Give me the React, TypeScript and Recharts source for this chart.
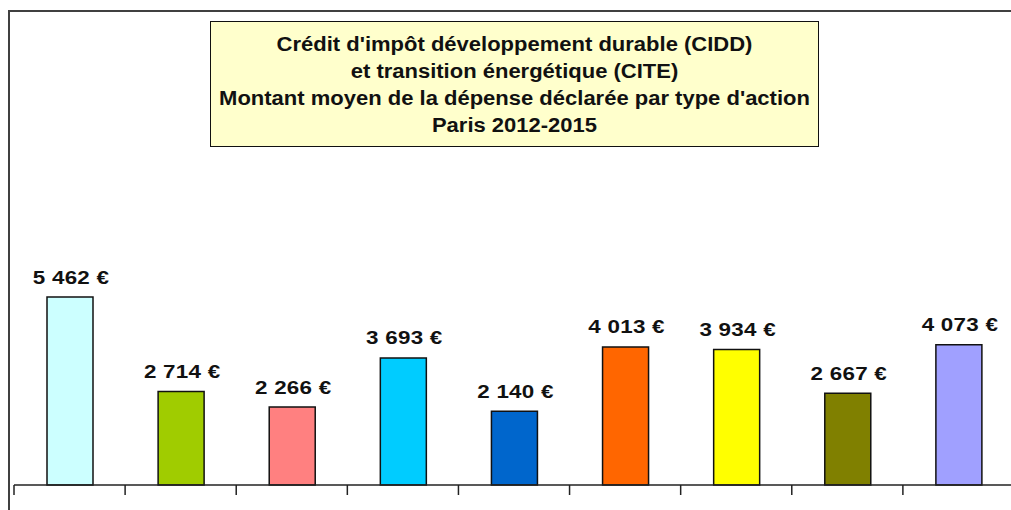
import React from "react";
import { BarChart, Bar, XAxis, YAxis, Cell, LabelList } from "recharts";

const categories = [
  "Type 1",
  "Type 2",
  "Type 3",
  "Type 4",
  "Type 5",
  "Type 6",
  "Type 7",
  "Type 8",
  "Type 9",
];
const values = [5462, 2714, 2266, 3693, 2140, 4013, 3934, 2667, 4073];
const colors = [
  "#CCFFFF",
  "#A0CC00",
  "#FF8080",
  "#00CCFF",
  "#0066CC",
  "#FF6600",
  "#FFFF00",
  "#808000",
  "#A0A0FF",
];
const titleLines = [
  "Crédit d'impôt développement durable (CIDD)",
  "et transition énergétique (CITE)",
  "Montant moyen de la dépense déclarée par type d'action",
  "Paris 2012-2015",
];

const data = categories.map((c, i) => ({ category: c, value: values[i] }));

const FONT = "'Liberation Sans', Arial, sans-serif";
const PLOT_WIDTH = 1000;
const BAND = PLOT_WIDTH / categories.length;

const fmt = (v: number) =>
  String(v).replace(/\B(?=(\d{3})+(?!\d))/g, " ") + " €";

const BoundaryTick = (props: any) => {
  const { x, y } = props;
  const bx = x - BAND / 2;
  return (
    <line x1={bx} x2={bx} y1={y} y2={y + 10} stroke="#222" strokeWidth={1.5} />
  );
};

const ValueLabel = (props: any) => {
  const { x, y, width, value } = props;
  const cx = Number(x) + Number(width) / 2 + 1;
  const cy = Number(y) - 13.5;
  return (
    <text
      transform={`translate(${cx},${cy}) scale(1.28,1)`}
      x={0}
      y={0}
      textAnchor="middle"
      fontFamily={FONT}
      fontWeight="bold"
      fontSize={17.5}
      letterSpacing={0.2}
      fill="#111"
    >
      {fmt(Number(value))}
    </text>
  );
};

export default function App() {
  return (
    <div
      style={{
        position: "fixed",
        left: 0,
        top: 0,
        width: 1011,
        height: 510,
        overflow: "hidden",
        background: "#fff",
      }}
    >
      <svg
        width={1011}
        height={510}
        style={{ position: "absolute", left: 0, top: 0 }}
      >
        <path d="M9,510 L9,11 L1011,11" fill="none" stroke="#404040" strokeWidth={2} />
      </svg>
      <div style={{ position: "absolute", left: 8, top: 8 }}>
        <BarChart
          width={1010}
          height={494}
          data={data}
          margin={{ top: 64, right: 4, left: 6, bottom: 7 }}
        >
          <XAxis
            dataKey="category"
            height={10}
            interval={0}
            axisLine={{ stroke: "#222", strokeWidth: 1.5 }}
            tickLine={false}
            tickSize={0}
            tickMargin={0}
            tick={<BoundaryTick />}
          />
          <YAxis hide domain={[0, 12000]} />
          <Bar
            dataKey="value"
            barSize={46}
            stroke="#111"
            strokeWidth={1.5}
            isAnimationActive={false}
          >
            {data.map((d, i) => (
              <Cell key={d.category} fill={colors[i]} />
            ))}
            <LabelList dataKey="value" content={<ValueLabel />} />
          </Bar>
        </BarChart>
      </div>
      <div
        style={{
          position: "absolute",
          left: 210,
          top: 21,
          width: 607,
          height: 124,
          background: "#FFFFCC",
          border: "1.5px solid #111",
          boxSizing: "content-box",
          fontFamily: FONT,
          fontWeight: "bold",
          fontSize: 20,
          lineHeight: "27px",
          textAlign: "center",
          color: "#111",
        }}
      >
        <div style={{ height: 9 }} />
        {titleLines.map((l) => (
          <div
            key={l}
            style={{
              whiteSpace: "nowrap",
              transform: "scaleX(1.1)",
              transformOrigin: "50% 50%",
            }}
          >
            {l}
          </div>
        ))}
      </div>
    </div>
  );
}
